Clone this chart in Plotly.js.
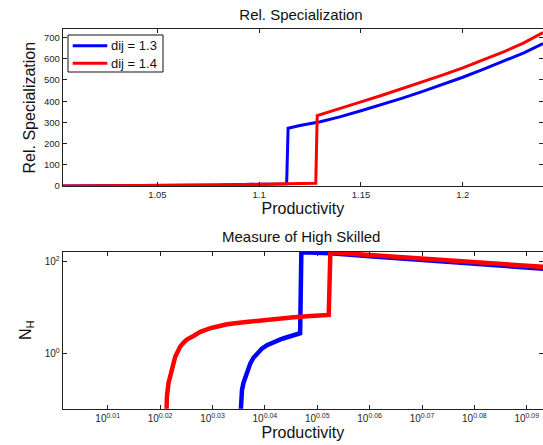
<!DOCTYPE html>
<html>
<head>
<meta charset="utf-8">
<script src="https://cdn.plot.ly/plotly-3.0.1.min.js"></script>
<style>html,body{margin:0;padding:0;background:#fff;}#chart{width:543px;height:445px;}</style>
</head>
<body>
<div id="chart"></div>
<script>
// ---- Data ----
var seriesNames = ['dij = 1.3', 'dij = 1.4'];

// Top panel: Rel. Specialization vs Productivity
var prodSpec13 = [1.0035, 1.02, 1.04, 1.06, 1.08, 1.10, 1.1135, 1.1142, 1.12, 1.13, 1.14, 1.15, 1.16, 1.17, 1.18, 1.19, 1.20, 1.21, 1.22, 1.23, 1.2394];
var relSpec13  = [0, 0.5, 1.5, 3, 5, 8, 10, 272, 285, 303, 327, 355, 383, 413, 445, 478, 513, 550, 588, 628, 672];

var prodSpec14 = [1.0035, 1.02, 1.04, 1.06, 1.08, 1.10, 1.12, 1.1278, 1.1285, 1.14, 1.15, 1.16, 1.17, 1.18, 1.19, 1.20, 1.21, 1.22, 1.23, 1.2394];
var relSpec14  = [0, 0.5, 1.5, 3, 5, 8, 11, 13, 332, 365, 397, 427, 458, 490, 523, 557, 594, 632, 675, 724];

// Bottom panel: Measure of High Skilled (N_H) vs Productivity (log-log)
var prodNH13 = [1.0846, 1.0849, 1.0855, 1.0862, 1.0871, 1.0882, 1.0895, 1.0910, 1.0927, 1.0950, 1.0975, 1.1005, 1.1040, 1.1072, 1.1105, 1.1136, 1.1142, 1.1285, 1.15, 1.175, 1.20, 1.2394];
var nH13     = [0.03, 0.09, 0.158, 0.225, 0.309, 0.44, 0.603, 0.80, 1.0, 1.26, 1.51, 1.77, 2.02, 2.25, 2.45, 2.75, 163, 155, 132, 110, 93, 71];

var prodNH14 = [1.0499, 1.0503, 1.0510, 1.0518, 1.0525, 1.0533, 1.0541, 1.0549, 1.0564, 1.0580, 1.0595, 1.0626, 1.0658, 1.0705, 1.0752, 1.0784, 1.0863, 1.0943, 1.1024, 1.1105, 1.1188, 1.1277, 1.1285, 1.15, 1.175, 1.20, 1.2394];
var nH14     = [0.03, 0.12, 0.224, 0.309, 0.47, 0.66, 0.84, 1.0, 1.40, 1.72, 2.0, 2.40, 2.95, 3.55, 4.07, 4.32, 4.79, 5.25, 5.69, 6.17, 6.53, 6.92, 163, 141, 119, 100, 78];

// Tick labels
var topTickVals = [1.05, 1.1, 1.15, 1.2];
var topTickText = ['1.05', '1.1', '1.15', '1.2'];
var botTickExps = ['0.01', '0.02', '0.03', '0.04', '0.05', '0.06', '0.07', '0.08', '0.09'];
var nhTickVals = [1, 100];
var nhTickText = ['10<sup>0</sup>', '10<sup>2</sup>'];

// ---- Chart ----
var colors = ['#0000ff', '#ff0000'];
var FONT = 'Liberation Sans, Arial, Helvetica, sans-serif';
var W = 543, H = 445;
function px(x) { return x / W; }
function py(y) { return (H - y) / H; }

var traces = [
  {x: prodSpec13, y: relSpec13, name: seriesNames[0], mode: 'lines', line: {color: colors[0], width: 3}, xaxis: 'x', yaxis: 'y'},
  {x: prodSpec14, y: relSpec14, name: seriesNames[1], mode: 'lines', line: {color: colors[1], width: 3}, xaxis: 'x', yaxis: 'y'},
  {x: prodNH13, y: nH13, name: seriesNames[0], mode: 'lines', line: {color: colors[0], width: 4.5}, xaxis: 'x2', yaxis: 'y2'},
  {x: prodNH14, y: nH14, name: seriesNames[1], mode: 'lines', line: {color: colors[1], width: 4.5}, xaxis: 'x2', yaxis: 'y2'}
];

var axCommon = {
  showline: true, linecolor: '#222', linewidth: 1, mirror: 'ticks',
  ticks: 'inside', ticklen: 4, tickcolor: '#222', tickwidth: 1,
  showgrid: false, zeroline: false,
  tickfont: {family: FONT, size: 9.5, color: '#262626'}
};
function ax(o) { return Object.assign({}, axCommon, o); }

// Legend box drawn in the upper-left of the top panel (entries from seriesNames/colors)
var legL = 68, legR = 163, legT = 35, legB = 72;
var legRows = [45.7, 63.3];
var shapes = [
  {type: 'rect', xref: 'paper', yref: 'paper', x0: px(legL), x1: px(legR), y0: py(legB), y1: py(legT),
   line: {color: '#111', width: 1}, fillcolor: '#fff', layer: 'above'}
];
var annotations = [
  {text: 'Measure of High Skilled', xref: 'paper', yref: 'paper', x: px(301), y: py(236.7),
   xanchor: 'center', yanchor: 'middle', showarrow: false,
   font: {family: FONT, size: 15, color: '#111'}}
];
seriesNames.forEach(function (name, i) {
  shapes.push({type: 'line', xref: 'paper', yref: 'paper', x0: px(72.7), x1: px(107.3),
               y0: py(legRows[i]), y1: py(legRows[i]), line: {color: colors[i], width: 3}, layer: 'above'});
  annotations.push({text: name, xref: 'paper', yref: 'paper', x: px(108.5), y: py(legRows[i]),
                    xanchor: 'left', yanchor: 'middle', showarrow: false,
                    font: {family: FONT, size: 13, color: '#111'}});
});

var xDom = [px(62.7), 1];
var layout = {
  width: W, height: H,
  margin: {l: 0, r: 0, t: 0, b: 0},
  paper_bgcolor: '#fff', plot_bgcolor: '#fff',
  font: {family: FONT, color: '#111'},
  showlegend: false,
  title: {text: 'Rel. Specialization', x: px(301), xanchor: 'center', y: py(15), yanchor: 'middle',
          font: {family: FONT, size: 15, color: '#111'}},
  xaxis: ax({domain: xDom, anchor: 'y', range: [1.0035, 1.2394],
             tickvals: topTickVals, ticktext: topTickText,
             title: {text: 'Productivity', font: {family: FONT, size: 16, color: '#111'}, standoff: 3}}),
  yaxis: ax({domain: [py(186), py(29.3)], anchor: 'x', range: [0, 739], dtick: 100,
             title: {text: 'Rel. Specialization', font: {family: FONT, size: 16, color: '#111'}, standoff: 4}}),
  xaxis2: ax({domain: xDom, anchor: 'y2', type: 'log', range: [0.0014, 0.0931],
              tickvals: botTickExps.map(function (e) { return Math.pow(10, parseFloat(e)); }),
              ticktext: botTickExps.map(function (e) { return '10<sup>' + e + '</sup>'; }),
              tickfont: {family: FONT, size: 10, color: '#262626'},
              title: {text: 'Productivity', font: {family: FONT, size: 16, color: '#111'}, standoff: 1}}),
  yaxis2: ax({domain: [py(408.7), py(251.7)], anchor: 'x2', type: 'log', range: [-1.212, 2.225],
              tickvals: nhTickVals, ticktext: nhTickText,
              tickfont: {family: FONT, size: 10, color: '#262626'},
              title: {text: 'N<sub>H</sub>', font: {family: FONT, size: 16, color: '#111'}, standoff: 9}}),
  shapes: shapes,
  annotations: annotations
};

Plotly.newPlot('chart', traces, layout, {displayModeBar: false, staticPlot: true});
</script>
</body>
</html>
